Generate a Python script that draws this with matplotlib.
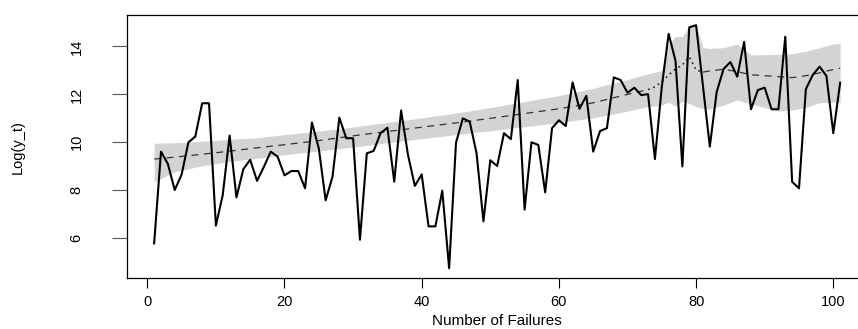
import matplotlib
matplotlib.use("Agg")
import matplotlib.pyplot as plt
import numpy as np

plt.rcParams['lines.scale_dashes'] = False

# Observed log responses for failures 1..101
failures = np.arange(1, 102)
log_y = [
    5.78, 9.61, 9.10, 8.01, 8.65, 10.00, 10.24, 11.63, 11.63, 6.52,
    7.80, 10.28, 7.70, 8.88, 9.27, 8.39, 8.98, 9.61, 9.40, 8.62,
    8.80, 8.80, 8.08, 10.83, 9.75, 7.58, 8.56, 11.03, 10.17, 10.17,
    5.93, 9.54, 9.64, 10.38, 10.61, 8.36, 11.33, 9.48, 8.18, 8.66,
    6.49, 6.49, 7.98, 4.74, 9.98, 11.00, 10.86, 9.54, 6.70, 9.25,
    9.01, 10.38, 10.13, 12.60, 7.19, 10.00, 9.89, 7.91, 10.59, 10.92,
    10.68, 12.50, 11.40, 11.94, 9.61, 10.47, 10.59, 12.71, 12.60, 12.07,
    12.28, 11.97, 12.01, 9.30, 12.32, 14.53, 13.40, 8.99, 14.80, 14.89,
    12.35, 9.82, 12.10, 13.06, 13.35, 12.74, 14.19, 11.38, 12.18, 12.28,
    11.38, 11.38, 14.41, 8.35, 8.08, 12.22, 12.81, 13.16, 12.77, 10.38,
    12.49,
]

# Fitted mean and interval bounds
fit_x = [1, 4, 8, 12, 16, 20, 25, 30, 35, 40, 45, 50, 55, 60, 65, 70,
         73, 74, 75, 76, 77, 78, 79, 80, 81, 82, 84, 86, 88, 90, 92, 94,
         96, 98, 100, 101]
fit_mean = [9.30, 9.38, 9.50, 9.63, 9.77, 9.90, 10.07, 10.27, 10.45, 10.63,
            10.81, 11.00, 11.20, 11.40, 11.65, 12.00, 12.20, 12.32, 12.53,
            12.81, 13.06, 13.23, 13.57, 13.02, 12.93, 12.98, 13.05, 12.95,
            12.82, 12.78, 12.74, 12.70, 12.78, 12.90, 13.04, 13.09]
band_hi = [9.96, 9.98, 10.04, 10.12, 10.19, 10.32, 10.47, 10.64, 10.83, 11.02,
           11.22, 11.45, 11.70, 11.95, 12.25, 12.62, 12.86, 12.92, 13.00,
           14.10, 14.42, 14.42, 14.86, 14.92, 13.95, 13.92, 13.95, 14.10,
           13.65, 13.66, 13.67, 13.70, 13.80, 13.95, 14.10, 14.13]
band_lo = [8.35, 8.77, 9.02, 9.20, 9.33, 9.48, 9.64, 9.80, 9.98, 10.15,
           10.32, 10.48, 10.65, 10.82, 11.02, 11.30, 11.50, 11.52, 11.56,
           11.67, 11.52, 11.72, 11.62, 11.49, 11.42, 11.39, 11.55, 11.77,
           11.60, 11.45, 11.30, 11.35, 11.45, 11.65, 11.68, 11.67]

x_ticks = [0, 20, 40, 60, 80, 100]
y_ticks = [6, 8, 10, 12, 14]

W, H = 858, 329
fig = plt.figure(figsize=(W / 100, H / 100), dpi=100)
left_px, right_px, top_px, bottom_px = 126.7, 867.6, 15.0, 278.0
ax = fig.add_axes([left_px / W, 1 - bottom_px / H,
                   (right_px - left_px) / W, (bottom_px - top_px) / H])

ax.fill_between(fit_x, band_lo, band_hi, color='#D3D3D3', linewidth=0, zorder=1)

# Mean curve: dashed, with the dotted stretch around the jump
fx = np.array(fit_x)
fm = np.array(fit_mean)
dot = (fx >= 73) & (fx <= 81)
dash_a = fx <= 73
dash_b = fx >= 81
ax.plot(fx[dash_a], fm[dash_a], color='#333333', lw=0.9, dashes=(5.0, 4.0), zorder=2)
ax.plot(fx[dash_b], fm[dash_b], color='#333333', lw=0.9, dashes=(5.0, 4.0), zorder=2)
ax.plot(fx[dot], fm[dot], color='#222222', lw=1.1, dashes=(1.3, 2.6), zorder=2)

ax.plot(failures, log_y, color='black', lw=1.5, solid_joinstyle='round', zorder=3)

ax.set_xlim(-3, 105)
ax.set_ylim(4.334, 15.315)
for s in ax.spines.values():
    s.set_linewidth(0.9)
    s.set_color('black')
ax.spines['right'].set_visible(False)

ax.set_xticks(x_ticks)
ax.set_yticks(y_ticks)
ax.tick_params(axis='x', direction='out', length=7, width=0.8, pad=5,
               labelsize=10.5)
ax.tick_params(axis='y', direction='out', length=11, width=0.8, pad=20,
               labelsize=10.5, labelrotation=90, color='#555555')
for lab in ax.get_xticklabels():
    lab.set_family(['Liberation Sans', 'DejaVu Sans'])
for lab in ax.get_yticklabels():
    lab.set_family(['Liberation Sans Narrow', 'Liberation Sans', 'DejaVu Sans'])
    lab.set_va('center')

ax.set_xlabel('Number of Failures', family=['Liberation Sans', 'DejaVu Sans'],
              fontsize=11, labelpad=4)
ax.set_ylabel('Log(y_t)', family=['Liberation Sans Narrow', 'Liberation Sans', 'DejaVu Sans'],
              fontsize=10.5)
ax.yaxis.label.set_va('center')
ax.yaxis.label.set_ha('center')
ax.yaxis.set_label_coords(18 / W, 1 - 147 / H, transform=fig.transFigure)

fig.savefig('out.png', dpi=100)
